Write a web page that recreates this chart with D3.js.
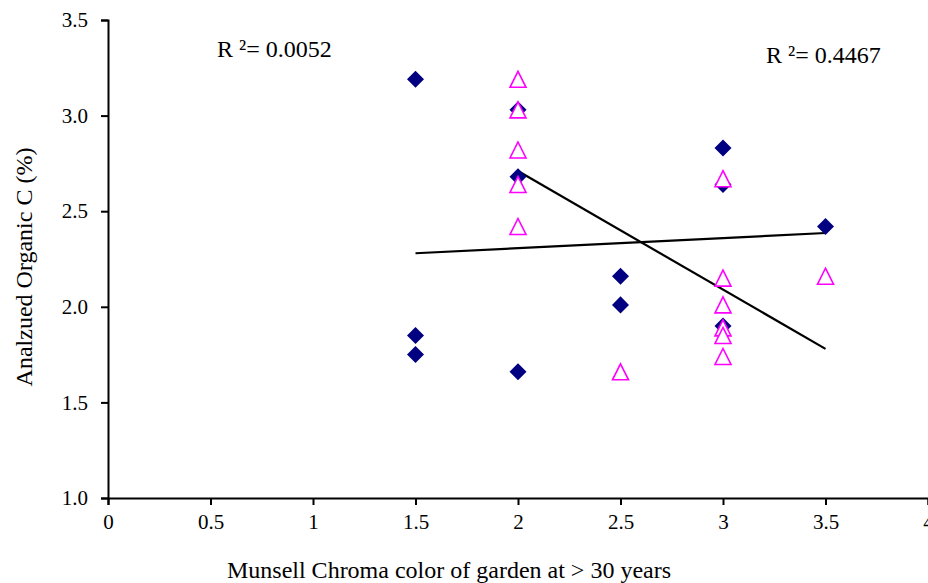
<!DOCTYPE html>
<html><head><meta charset="utf-8">
<script src="https://cdn.jsdelivr.net/npm/d3@7"></script>
<style>body{margin:0;background:#fff}svg{display:block}svg text{font-family:"Liberation Serif","Times New Roman",serif !important}</style>
</head><body><svg id="c" width="928" height="583"></svg>
<script>
// Series A (navy diamonds)
const diamondX = [1.5,1.5,1.5, 2,2,2, 2.5,2.5, 3,3,3, 3.5];
const diamondY = [3.19,1.85,1.75, 3.03,2.68,1.66, 2.16,2.01, 2.83,2.64,1.90, 2.42];
// Series B (magenta triangles)
const triX = [2,2,2,2,2, 2.5, 3,3,3,3,3,3, 3.5];
const triY = [3.19,3.03,2.82,2.64,2.42, 1.66, 2.67,2.15,2.01,1.89,1.85,1.74, 2.16];
// Linear trend lines (endpoints)
const trendAX = [1.5, 3.5];
const trendAY = [2.28, 2.386];
const trendBX = [2, 3.5];
const trendBY = [2.71, 1.78];
const xTicks = [0,0.5,1,1.5,2,2.5,3,3.5,4];
const yTicks = [1.0,1.5,2.0,2.5,3.0,3.5];
const r2Labels = ["R ²= 0.0052","R ²= 0.4467"];

const svg = d3.select("#c");
const x = d3.scaleLinear().domain([0,4]).range([108,928]);
const y = d3.scaleLinear().domain([1,3.5]).range([498,20]);

const fs = 21;
const xAxis = svg.append("g").attr("transform","translate(0,498)")
  .call(d3.axisBottom(x).tickValues(xTicks).tickSize(7).tickPadding(9).tickFormat(d3.format("")));
const yAxis = svg.append("g").attr("transform","translate(108,0)")
  .call(d3.axisLeft(y).tickValues(yTicks).tickSize(7).tickPadding(13).tickFormat(d3.format(".1f")));
[xAxis,yAxis].forEach(g=>{
  g.attr("font-family",null);
  g.select(".domain").attr("stroke","#000").attr("stroke-width",2);
  g.selectAll(".tick line").attr("stroke","#000").attr("stroke-width",2);
  g.selectAll("text").attr("font-size",fs).attr("fill","#000");
});

const line = d3.line().x(d=>x(d[0])).y(d=>y(d[1]));
[d3.zip(trendAX,trendAY), d3.zip(trendBX,trendBY)].forEach(p=>{
  svg.append("path").attr("d",line(p)).attr("stroke","#000").attr("stroke-width",2.2).attr("fill","none");
});

svg.append("g").selectAll("path").data(d3.zip(diamondX,diamondY)).join("path")
  .attr("transform",d=>`translate(${x(d[0])},${y(d[1])}) rotate(45)`)
  .attr("d",d3.symbol().type(d3.symbolSquare).size(145)())
  .attr("fill","#000080");

svg.append("g").selectAll("path").data(d3.zip(triX,triY)).join("path")
  .attr("transform",d=>`translate(${x(d[0])},${y(d[1])})`)
  .attr("d","M0,-8L8,8L-8,8Z")
  .attr("fill","#fff").attr("stroke","#ff00ff").attr("stroke-width",1.6);

svg.append("text").attr("x",217).attr("y",57).attr("font-size",24).text(r2Labels[0]);
svg.append("text").attr("x",766).attr("y",63).attr("font-size",24).text(r2Labels[1]);

svg.append("text").attr("x",449).attr("y",578).attr("text-anchor","middle").attr("font-size",24)
  .text("Munsell Chroma color of garden at > 30 years");
svg.append("text").attr("transform","translate(32,267) rotate(-90)").attr("text-anchor","middle").attr("font-size",24)
  .text("Analzued Organic C (%)");
</script></body></html>
